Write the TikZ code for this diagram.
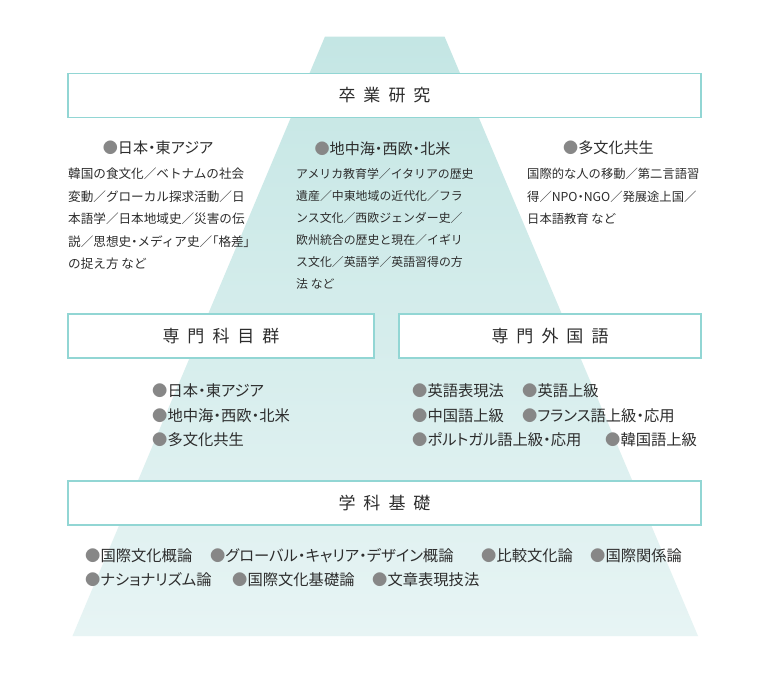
\documentclass[tikz,border=0pt]{standalone}
\usepackage{fontspec}
\usepackage{tikz}
\setmainfont{Noto Sans CJK JP}
\newfontfamily\jpfont{Noto Sans CJK JP}
\newfontfamily\jppfont[RawFeature=+palt]{Noto Sans CJK JP}
\definecolor{trapTop}{RGB}{196,230,228}
\definecolor{trapBot}{RGB}{231,244,244}
\definecolor{boxLine}{RGB}{146,214,212}
\definecolor{dotGray}{RGB}{135,135,135}
\definecolor{txtGray}{RGB}{45,45,45}
\newcommand{\dotmark}{{\color{dotGray}●}}
\newcommand{\ttgap}{\hspace{8pt}}
\newcommand{\narrow}[1]{{\jppfont #1}}

\begin{document}
\begin{tikzpicture}[x=1pt,y=-1pt]
\tikzstyle{every node}+=[inner sep=0pt, text=txtGray]
\tikzstyle{titlebox}=[draw=boxLine, line width=1.4pt, fill=white, minimum height=44pt,
  font=\jpfont\fontsize{17}{17}\selectfont]
\tikzstyle{head}=[font=\jppfont\fontsize{15.1}{15.1}\selectfont]
\tikzstyle{item}=[anchor=west, font=\jppfont\fontsize{15.3}{15.3}\selectfont]
\tikzstyle{body}=[anchor=west]
\useasboundingbox (0,0) rectangle (770,672);
\fill[white] (0,0) rectangle (770,672);
\shade[top color=trapTop, bottom color=trapBot] (325,36.5) -- (444.5,36.5) -- (698,636) -- (72.5,636) -- cycle;

\node[titlebox, minimum width=633pt] (sotsu) at (384.5,95.5) {卒\ttgap 業\ttgap 研\ttgap 究};
\node[head] (h1) at (158,148) {\dotmark 日本・東アジア};
\node[head] (h2) at (382.5,149) {\dotmark 地中海・西欧・北米};
\node[head] (h3) at (608.5,148) {\dotmark 多文化共生};
\foreach \t [count=\i] in {韓国の食文化／ベトナムの社会, 変動／グローカル探求活動／日,
  本語学／日本地域史／災害の伝, 説／思想史\narrow{・}メディア史／\narrow{「}格差\narrow{」}, の捉え方 など}
  \node[body, font=\jpfont\fontsize{12.6}{12.6}\selectfont] (a\i) at (68,{174+22.5*(\i-1)}) {\t};
\foreach \t [count=\i] in {アメリカ教育学／イタリアの歴史, 遺産／中東地域の近代化／フラ,
  ンス文化／西欧ジェンダー史／, 欧州統合の歴史と現在／イギリ, ス文化／英語学／英語習得の方, 法 など}
  \node[body, font=\jpfont\fontsize{11.9}{11.9}\selectfont] (b\i) at (296,{174+22*(\i-1)}) {\t};
\foreach \t [count=\i] in {国際的な人の移動／第二言語習, 得／NPO\narrow{・}NGO／発展途上国／, 日本語教育 など}
  \node[body, font=\jpfont\fontsize{12.3}{12.3}\selectfont] (c\i) at (527,{174+22.5*(\i-1)}) {\t};

\node[titlebox, minimum width=306pt] (senmon) at (221,336) {専\ttgap 門\ttgap 科\ttgap 目\ttgap 群};
\node[titlebox, minimum width=302pt] (gaikoku) at (550,336) {専\ttgap 門\ttgap 外\ttgap 国\ttgap 語};
\node[item] (f1) at (152,391) {\dotmark 日本・東アジア};
\node[item] (f2) at (152,416) {\dotmark 地中海・西欧・北米};
\node[item] (f3) at (152,440) {\dotmark 多文化共生};
\node[item] (g1) at (412,391) {\dotmark 英語表現法};
\node[item] (g2) at (522,391) {\dotmark 英語上級};
\node[item] (g3) at (412,416) {\dotmark 中国語上級};
\node[item] (g4) at (522,416) {\dotmark フランス語上級・応用};
\node[item] (g5) at (412,440) {\dotmark ポルトガル語上級・応用};
\node[item] (g6) at (605,440) {\dotmark 韓国語上級};

\node[titlebox, minimum width=633pt] (kiso) at (384.5,503) {学\ttgap 科\ttgap 基\ttgap 礎};
\node[item] (k1) at (85,556) {\dotmark 国際文化概論};
\node[item] (k2) at (210,556) {\dotmark グローバル・キャリア・デザイン概論};
\node[item] (k3) at (481,556) {\dotmark 比較文化論};
\node[item] (k4) at (590,556) {\dotmark 国際関係論};
\node[item] (k5) at (85,580) {\dotmark ナショナリズム論};
\node[item] (k6) at (232,580) {\dotmark 国際文化基礎論};
\node[item] (k7) at (372,580) {\dotmark 文章表現技法};
\end{tikzpicture}
\end{document}
